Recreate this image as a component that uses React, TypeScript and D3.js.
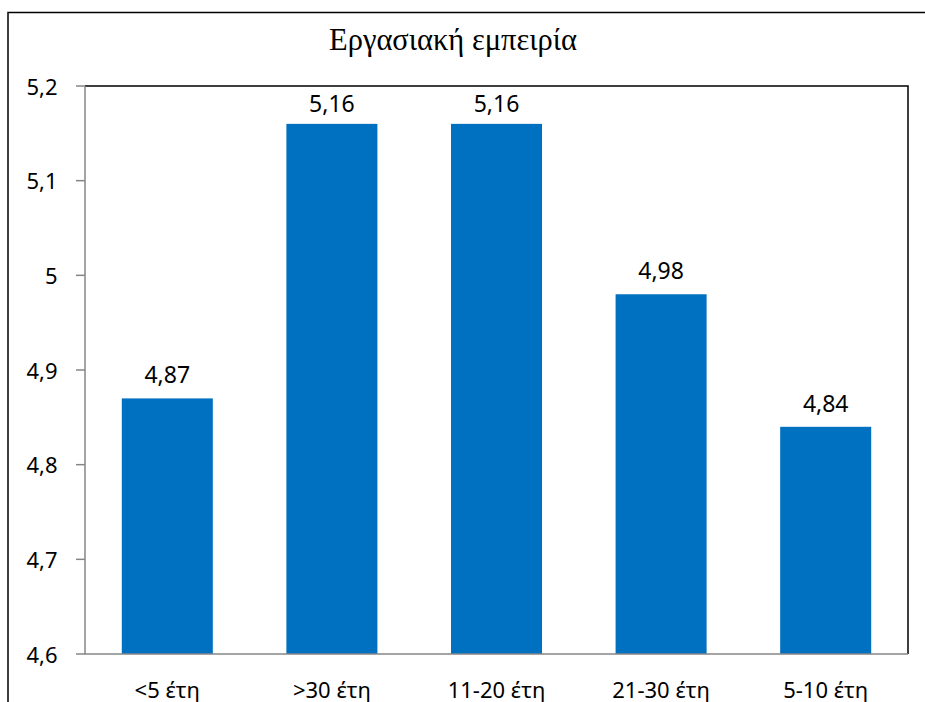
import React from "react";
import * as d3 from "d3";

// Work experience groups and mean scores
const categories: string[] = ["<5 έτη", ">30 έτη", "11-20 έτη", "21-30 έτη", "5-10 έτη"];
const values: number[] = [4.87, 5.16, 5.16, 4.98, 4.84];
const yTicks: number[] = [4.6, 4.7, 4.8, 4.9, 5.0, 5.1, 5.2];
const title = "Εργασιακή εμπειρία";

const W = 925;
const H = 702;
const plot = { left: 85, right: 908, top: 86, bottom: 654 };

const sans = "'Noto Sans', 'Open Sans', sans-serif";
const serif = "'Liberation Serif', 'DejaVu Serif', serif";
const comma = (v: number) => d3.format("~g")(v).replace(".", ",");

export default function App() {
  const x = d3
    .scaleBand<string>()
    .domain(categories)
    .range([plot.left, plot.right])
    .paddingInner(0.447)
    .paddingOuter(0.2235);

  const y = d3.scaleLinear().domain([4.6, 5.2]).range([plot.bottom, plot.top]);

  return (
    <svg
      width={W}
      height={H}
      style={{ position: "absolute", left: 0, top: 0, background: "#fff" }}
    >
      {/* chart frame */}
      <rect x={8} y={12.5} width={940} height={720} fill="#fff" stroke="#000" strokeWidth={1.5} />

      <text
        x={453}
        y={50}
        textAnchor="middle"
        style={{ fontFamily: serif }}
        fontSize={30.5}
        fill="#000"
      >
        {title}
      </text>

      {/* plot border: top and right */}
      <path
        d={`M${plot.left},${plot.top}H${plot.right}V${plot.bottom}`}
        fill="none"
        stroke="#000"
        strokeWidth={1.5}
      />

      {/* bars */}
      {categories.map((c, i) => (
        <rect
          key={c}
          x={x(c)}
          y={y(values[i])}
          width={x.bandwidth()}
          height={plot.bottom - y(values[i])}
          fill="#0070C0"
        />
      ))}

      {/* value labels */}
      {categories.map((c, i) => (
        <text
          key={"l" + c}
          x={(x(c) as number) + x.bandwidth() / 2}
          y={Math.max(y(values[i]) - 15, plot.top + 26)}
          textAnchor="middle"
          style={{ fontFamily: sans }}
          fontSize={23}
          fill="#000"
        >
          {comma(values[i])}
        </text>
      ))}

      {/* y axis */}
      <line x1={plot.left} x2={plot.left} y1={plot.top} y2={plot.bottom} stroke="#868686" strokeWidth={1.5} />
      {yTicks.map((t) => (
        <g key={t}>
          <line x1={76} x2={plot.left} y1={y(t)} y2={y(t)} stroke="#868686" strokeWidth={1.5} />
          <text
            x={57.5}
            y={y(t) + 8.5}
            textAnchor="end"
            style={{ fontFamily: sans }}
            fontSize={22}
            fill="#000"
          >
            {comma(t)}
          </text>
        </g>
      ))}

      {/* x axis */}
      <line x1={plot.left} x2={plot.right} y1={plot.bottom} y2={plot.bottom} stroke="#868686" strokeWidth={1.5} />
      {categories.map((c) => (
        <text
          key={"c" + c}
          x={(x(c) as number) + x.bandwidth() / 2}
          y={697.5}
          textAnchor="middle"
          style={{ fontFamily: sans }}
          fontSize={22}
          fill="#000"
        >
          {c}
        </text>
      ))}
    </svg>
  );
}
